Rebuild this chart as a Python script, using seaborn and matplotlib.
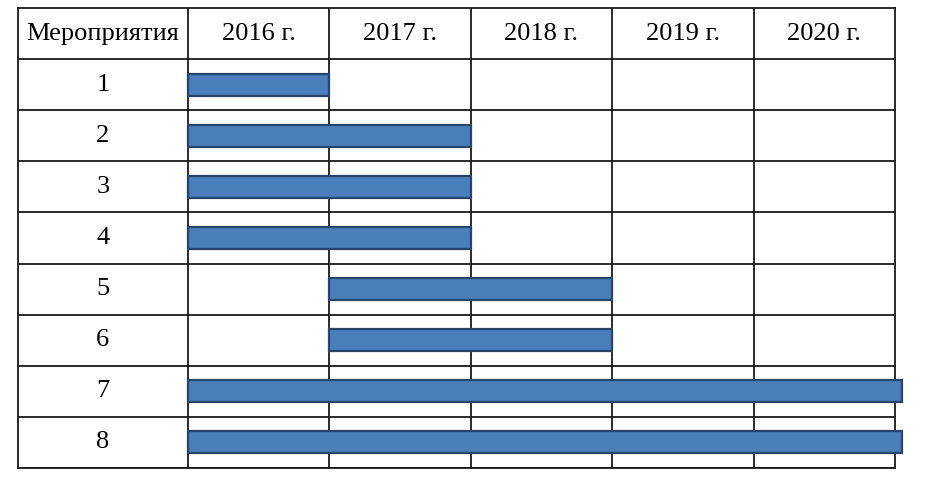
import numpy as np
import matplotlib
matplotlib.use('Agg')
import matplotlib.pyplot as plt
import seaborn as sns
import pandas as pd

# table data
events = ['1', '2', '3', '4', '5', '6', '7', '8']
start = [2016, 2016, 2016, 2016, 2017, 2017, 2016, 2016]
end = [2017, 2018, 2018, 2018, 2019, 2019, 2021.05, 2021.05]
years = [2016, 2017, 2018, 2019, 2020]
year_labels = ['2016 г.', '2017 г.', '2018 г.', '2019 г.', '2020 г.']
header = 'Мероприятия'

df = pd.DataFrame({'event': events, 'start': start, 'end': end})
df['dur'] = df['end'] - df['start']

sns.set_theme(style='white')
plt.rcParams['font.family'] = ['Liberation Serif', 'DejaVu Serif']

fig = plt.figure(figsize=(9.25, 4.86), dpi=100)
ax = fig.add_axes([18 / 925, 18 / 486, 877 / 925, 460 / 486])

sns.barplot(data=df, x='dur', y='event', orient='h', left=df['start'].values,
            color='#4a7ebb', edgecolor='#27456b', linewidth=1.6, width=0.43,
            saturation=1, ax=ax, zorder=3, clip_on=False)

label_w = 1.2
x0 = years[0] - label_w
x1 = years[-1] + 1
ax.set_xlim(x0, x1)
ax.set_ylim(len(events) - 0.5, -1.5)

lc = '#1a1a1a'
for x in [years[0]] + [y + 1 for y in years[:-1]]:
    ax.axvline(x, color=lc, lw=1.3, zorder=1)
for i in range(len(events) + 1):
    ax.axhline(i - 0.5, color=lc, lw=1.3, zorder=1)

for s in ax.spines.values():
    s.set_color(lc)
    s.set_linewidth(1.3)
    s.set_visible(True)

fs = 19
tc = 'black'
ax.text(x0 + label_w / 2, -1, header, ha='center', va='center', fontsize=fs, color=tc)
for y, lab in zip(years, year_labels):
    ax.text(y + 0.5, -1, lab, ha='center', va='center', fontsize=fs, color=tc)
for i, e in enumerate(events):
    ax.text(x0 + label_w / 2, i, e, ha='center', va='center', fontsize=fs, color=tc)

ax.set_xticks([])
ax.set_yticks([])
ax.set_xlabel('')
ax.set_ylabel('')

fig.savefig('out.png', dpi=100)
